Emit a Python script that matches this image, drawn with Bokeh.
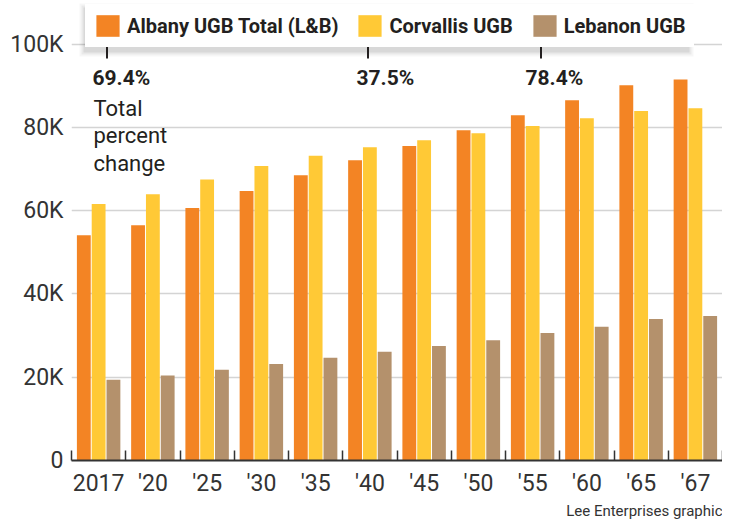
import numpy as np
from bokeh.plotting import figure
from bokeh.models import (ColumnDataSource, FixedTicker, Legend, LegendItem, Label,
                          BoxAnnotation, Range1d, Title)
from bokeh.transform import dodge
from bokeh.embed import file_html
from bokeh.resources import INLINE

# ---- data ----
years = ["2017", "'20", "'25", "'30", "'35", "'40", "'45", "'50", "'55", "'60", "'65", "'67"]
albany = [54100, 56500, 60600, 64700, 68500, 72100, 75500, 79300, 82900, 86500, 90100, 91500]
corvallis = [61600, 63900, 67500, 70700, 73200, 75200, 76900, 78600, 80300, 82200, 83900, 84600]
lebanon = [19400, 20400, 21800, 23200, 24700, 26100, 27500, 28900, 30600, 32100, 34000, 34700]
series_names = ["Albany UGB Total (L&B)", "Corvallis UGB", "Lebanon UGB"]
pct_change = ["69.4%", "37.5%", "78.4%"]
note_lines = ["Total", "percent", "change"]
y_ticks = [0, 20000, 40000, 60000, 80000, 100000]
y_tick_labels = ["0", "20K", "40K", "60K", "80K", "100K"]
credit = "Lee Enterprises graphic"

# ---- style ----
ORANGE = "#F38424"
YELLOW = "#FFC936"
BROWN = "#B4916C"
TXT = "#231F20"
AX = "#333333"
FONT = "Roboto"

W, H = 722, 519
BL, BB = 71, 58
Y_END = 110450

n = len(years)
centers = [i + 0.5 for i in range(n)]
bounds = list(range(n + 1))

src = ColumnDataSource(dict(x=centers, albany=albany, corvallis=corvallis, lebanon=lebanon))

p = figure(width=W, height=H, x_range=Range1d(0, n), y_range=Range1d(0, Y_END),
           output_backend="svg", toolbar_location=None,
           min_border_left=BL, min_border_right=0, min_border_top=0, min_border_bottom=BB)
p.outline_line_color = None
p.background_fill_color = "white"

bw = 0.255
off = 0.273
r1 = p.vbar(x=dodge("x", -off, range=p.x_range), top="albany", width=bw, source=src,
            fill_color=ORANGE, line_color=None)
r2 = p.vbar(x=dodge("x", 0.0, range=p.x_range), top="corvallis", width=bw, source=src,
            fill_color=YELLOW, line_color=None)
r3 = p.vbar(x=dodge("x", off, range=p.x_range), top="lebanon", width=bw, source=src,
            fill_color=BROWN, line_color=None)

# grid
p.xgrid.grid_line_color = None
p.ygrid.ticker = FixedTicker(ticks=y_ticks)
p.ygrid.grid_line_color = "#D4D4D4"
p.ygrid.grid_line_width = 1.5
p.ygrid.level = "underlay"

# y axis
ya = p.yaxis[0]
ya.ticker = FixedTicker(ticks=y_ticks)
ya.major_label_overrides = {t: l for t, l in zip(y_ticks, y_tick_labels)}
ya.axis_line_color = None
ya.major_tick_line_color = None
ya.major_tick_out = 0
ya.minor_tick_line_color = None
ya.major_label_standoff = 8
ya.major_label_text_font = FONT
ya.major_label_text_font_size = "23px"
ya.major_label_text_color = AX

# x axis
xa = p.xaxis[0]
xa.ticker = FixedTicker(ticks=centers, minor_ticks=bounds)
xa.major_label_overrides = {c: l for c, l in zip(centers, years)}
xa.axis_line_color = AX
xa.axis_line_width = 2
xa.major_tick_line_color = None
xa.major_tick_out = 0
xa.major_tick_in = 0
xa.minor_tick_line_color = AX
xa.minor_tick_line_width = 1.5
xa.minor_tick_in = 10
xa.minor_tick_out = 0
xa.major_label_standoff = 9
xa.major_label_text_font = FONT
xa.major_label_text_font_size = "23px"
xa.major_label_text_color = AX

# credit line under the axis
p.add_layout(Title(text=credit, align="right", text_font=FONT, text_font_size="15px",
                   text_font_style="normal", text_color=AX, standoff=0, offset=0), "below")

# legend geometry (screen px, relative to frame bottom-left)
LX, LY, LW, LH = 14, 413, 602, 41

# soft drop shadow behind the legend box
for k, a in [(6, 0.035), (4, 0.05), (2, 0.07)]:
    p.add_layout(BoxAnnotation(left=LX - k, right=LX + LW + k, top=LY + LH + k - 3, bottom=LY - k - 3,
                               left_units="screen", right_units="screen",
                               top_units="screen", bottom_units="screen",
                               fill_color="black", fill_alpha=a, line_color=None))

legend = Legend(items=[LegendItem(label=series_names[0], renderers=[r1]),
                       LegendItem(label=series_names[1], renderers=[r2]),
                       LegendItem(label=series_names[2], renderers=[r3])],
                orientation="horizontal", location=(LX, LY),
                glyph_width=29, glyph_height=27, label_standoff=5, spacing=17,
                padding=7, margin=0, label_height=27,
                background_fill_color="white", background_fill_alpha=1.0,
                border_line_color="#FFFFFF", border_line_width=1,
                label_text_font=FONT, label_text_font_style="bold",
                label_text_font_size="20px", label_text_color=TXT)
p.add_layout(legend, "center")

# connector lines from each legend swatch down to its percent label (thin boxes)
line_px = [35.5, 296.5, 469.5]
for lx in line_px:
    p.add_layout(BoxAnnotation(left=lx - 1, right=lx + 1, top=433, bottom=402,
                               left_units="screen", right_units="screen",
                               top_units="screen", bottom_units="screen",
                               fill_color=TXT, fill_alpha=1.0, line_color=None))

lab_x = [21, 285, 454]
for tx, txt in zip(lab_x, pct_change):
    p.add_layout(Label(x=tx, y=382.5, x_units="screen", y_units="screen", text=txt,
                       text_font=FONT, text_font_style="bold", text_font_size="21px",
                       text_color=TXT, text_baseline="alphabetic"))

for yy, t in zip([352.5, 325, 297.5], note_lines):
    p.add_layout(Label(x=22, y=yy, x_units="screen", y_units="screen", text=t,
                       text_font=FONT, text_font_style="bold" if False else "normal",
                       text_font_size="22px", text_color=TXT, text_baseline="alphabetic"))

open("out.html", "w").write(file_html(p, INLINE))
